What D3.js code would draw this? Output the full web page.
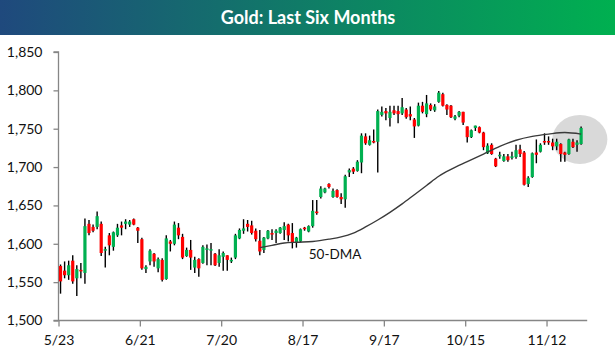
<!DOCTYPE html>
<html><head><meta charset="utf-8">
<script src="https://cdn.jsdelivr.net/npm/d3@7"></script>
<style>body{margin:0;background:#fff}svg{display:block}</style>
</head><body>
<script>
const dates = ["5/23","5/24","5/25","5/29","5/30","5/31",
"6/1","6/4","6/5","6/6","6/7","6/8","6/11","6/12","6/13","6/14","6/15","6/18","6/19","6/20","6/21","6/22","6/25","6/26","6/27","6/28","6/29",
"7/2","7/3","7/5","7/6","7/9","7/10","7/11","7/12","7/13","7/16","7/17","7/18","7/19","7/20","7/23","7/24","7/25","7/26","7/27","7/30","7/31",
"8/1","8/2","8/3","8/6","8/7","8/8","8/9","8/10","8/13","8/14","8/15","8/16","8/17","8/20","8/21","8/22","8/23","8/24","8/27","8/28","8/29","8/30","8/31",
"9/4","9/5","9/6","9/7","9/10","9/11","9/12","9/13","9/14","9/17","9/18","9/19","9/20","9/21","9/24","9/25","9/26","9/27","9/28",
"10/1","10/2","10/3","10/4","10/5","10/8","10/9","10/10","10/11","10/12","10/15","10/16","10/17","10/18","10/19","10/22","10/23","10/24","10/25","10/26","10/29","10/30","10/31",
"11/1","11/2","11/5","11/6","11/7","11/8","11/9","11/12","11/13","11/14","11/15","11/16","11/19","11/20","11/21","11/23"];
const opens = [1571,1565,1559,1578,1555,1566,1562,1626,1622,1622,1626,1591,1611,1596,1611,1624,1626,1625,1632,1621,
1606,1567,1577,1587,1568,1579,1554,1603,1600,1621,1609,1584,1592,1569,1580,1575,1592,1591,1587,1575,
1583,1585,1577,1582,1607,1617,1626,1624,1617,1604,1592,1607,1614,1614,1614,1618,1625,1614,1601,1603,
1621,1616,1623,1642,1661,1667,1678,1661,1670,1661,1658,1693,1698,1695,1706,1740,1729,1734,1733,1768,
1773,1764,1774,1773,1770,1775,1769,1762,1754,1780,1769,1781,1774,1785,1795,1781,1780,1763,1767,1772,
1753,1739,1751,1752,1745,1718,1729,1711,1714,1708,1714,1712,1713,1723,1719,1678,1687,1719,1720,1734,
1734,1732,1727,1730,1719,1717,1733,1729,1730];
const highs = [1573,1577,1578,1585,1572,1575,1633,1631,1625,1642,1629,1596,1614,1616,1626,1629,1632,1631,1633,1622,
1608,1572,1593,1588,1582,1581,1611,1605,1629,1627,1613,1595,1605,1583,1581,1598,1599,1601,1588,1593,
1590,1585,1582,1613,1620,1632,1631,1630,1620,1618,1609,1618,1619,1619,1622,1628,1626,1627,1609,1620,
1622,1624,1657,1657,1675,1673,1679,1672,1671,1666,1690,1698,1700,1709,1744,1744,1741,1749,1775,1779,
1777,1780,1780,1780,1790,1777,1779,1764,1784,1785,1794,1783,1782,1799,1797,1782,1781,1768,1773,1772,
1753,1749,1754,1753,1746,1731,1731,1712,1720,1717,1717,1720,1729,1729,1721,1688,1719,1736,1731,1744,
1740,1737,1737,1731,1720,1737,1737,1735,1753];
const lows = [1535,1555,1553,1548,1532,1555,1548,1611,1615,1619,1584,1569,1585,1591,1609,1611,1619,1622,1624,1601,
1566,1562,1572,1570,1563,1551,1553,1590,1598,1606,1580,1583,1566,1562,1557,1574,1572,1572,1571,1570,
1565,1565,1575,1580,1606,1613,1616,1612,1603,1585,1588,1606,1605,1601,1613,1605,1603,1594,1595,1602,
1617,1615,1621,1638,1659,1666,1672,1660,1660,1652,1647,1687,1691,1694,1692,1729,1728,1731,1693,1766,
1761,1753,1768,1757,1768,1763,1761,1738,1753,1770,1765,1773,1772,1784,1779,1768,1764,1761,1765,1755,
1732,1738,1747,1744,1722,1717,1716,1700,1711,1707,1707,1710,1711,1713,1676,1674,1686,1705,1719,1729,
1729,1722,1722,1707,1707,1716,1725,1720,1729];
const closes = [1551,1559,1572,1551,1567,1564,1623,1614,1617,1636,1588,1593,1598,1615,1621,1621,1629,1629,1625,1617,
1568,1570,1591,1577,1580,1553,1607,1600,1625,1611,1582,1592,1582,1579,1568,1596,1594,1593,1572,1585,
1588,1579,1579,1611,1618,1620,1622,1614,1606,1590,1608,1617,1612,1617,1621,1623,1611,1601,1608,1619,
1619,1623,1643,1640,1672,1672,1674,1669,1661,1658,1688,1696,1694,1707,1741,1731,1735,1732,1773,1772,
1770,1772,1770,1769,1778,1765,1766,1753,1780,1772,1783,1775,1779,1797,1780,1775,1765,1766,1772,1758,
1739,1748,1754,1745,1726,1728,1717,1701,1716,1714,1709,1714,1722,1717,1677,1686,1718,1716,1729,1732,
1732,1727,1733,1717,1716,1736,1726,1732,1751];
// 50-day moving average, read at sampled days (day index, value)
const dmaIndex = [49,52,55,58,62,66,69,72,75,78,81,84,87,90,93,96,100,104,108,112,116,120,124,128];
const dmaValue = [1595,1598,1601,1602,1603,1606,1609,1614,1622,1631,1641,1652,1664,1676,1688,1697,1707,1717,1727,1735,1740,1743,1745,1743];
const yTicks = [1500,1550,1600,1650,1700,1750,1800,1850];
const tickLabels = ["5/23","6/21","7/20","8/17","9/17","10/15","11/12"];
const titleText = "Gold: Last Six Months";
const dmaLabel = "50-DMA";

const W = 615, H = 352;
const svg = d3.select("body").append("svg").attr("width", W).attr("height", H);

const defs = svg.append("defs");
const grad = defs.append("linearGradient").attr("id","tg").attr("x1","0%").attr("x2","100%");
grad.append("stop").attr("offset","0%").attr("stop-color","#1f497d");
grad.append("stop").attr("offset","100%").attr("stop-color","#00b050");
svg.append("rect").attr("x",0).attr("y",0).attr("width",W).attr("height",35).attr("fill","url(#tg)");
svg.append("text").attr("x",308).attr("y",23.5).attr("text-anchor","middle")
  .attr("font-family","Lato, 'Open Sans', sans-serif").attr("font-weight","bold").attr("font-size",18)
  .attr("fill","#fff").text(titleText);

const x = d3.scaleLinear().domain([0, dates.length + 1]).range([58.5, 587.2]);
const y = d3.scaleLinear().domain([1500, 1850]).range([320.5, 52]);

// Highlight circle around latest candles
const last = dates.length - 1;
svg.append("ellipse").attr("cx", x(last + 0.2)).attr("cy", y(1736)).attr("rx", 27.5).attr("ry", 24.5)
  .attr("fill", "#d9d9d9");

// Axes
const yAxis = svg.append("g").attr("transform","translate(58.5,0)")
  .call(d3.axisLeft(y).tickValues(yTicks).tickFormat(d3.format(",")).tickSize(5).tickPadding(11));
const xAxis = svg.append("g").attr("transform","translate(0,320.5)")
  .call(d3.axisBottom(x).tickValues(tickLabels.map(l => dates.indexOf(l))).tickFormat(i => dates[i]).tickSize(6).tickPadding(9));
[yAxis, xAxis].forEach(g => {
  g.select(".domain").attr("stroke","#868686").attr("stroke-width",1.3);
  g.selectAll(".tick line").attr("stroke","#868686").attr("stroke-width",1.3);
  g.selectAll(".tick text").attr("font-family","Lato, 'Open Sans', sans-serif").attr("font-size",14).attr("fill","#111");
});
yAxis.select(".domain").attr("d","M-5,320.5H0V52H-5");
xAxis.select(".domain").attr("d","M58.5,0H587.2");

// Candles
const data = dates.map((d, i) => ({i, o: opens[i], h: highs[i], l: lows[i], c: closes[i]}));
const cg = svg.append("g");
cg.selectAll("line.wick").data(data).join("line").attr("class","wick")
  .attr("x1", d => x(d.i + 0.5)).attr("x2", d => x(d.i + 0.5))
  .attr("y1", d => y(d.h)).attr("y2", d => y(d.l))
  .attr("stroke","#000").attr("stroke-width",1.4);
cg.selectAll("rect.body").data(data).join("rect").attr("class","body")
  .attr("x", d => x(d.i + 0.5) - 1.6).attr("width", 3.2)
  .attr("y", d => y(Math.max(d.o, d.c)))
  .attr("height", d => Math.max(1.5, Math.abs(y(d.o) - y(d.c))))
  .attr("fill", d => d.c >= d.o ? "#00b050" : "#ff0000");

// 50-DMA line
const line = d3.line().x(d => x(d[0] + 0.5)).y(d => y(d[1])).curve(d3.curveMonotoneX);
svg.append("path").datum(dmaIndex.map((d, k) => [d, dmaValue[k]]))
  .attr("d", line).attr("fill","none").attr("stroke","#3a3a3a").attr("stroke-width",1.4);

svg.append("text").attr("x", x(68)).attr("y", y(1580)).attr("text-anchor","middle")
  .attr("font-family","Lato, 'Open Sans', sans-serif").attr("font-size",13.5).attr("fill","#111").text(dmaLabel);
</script>
</body></html>
